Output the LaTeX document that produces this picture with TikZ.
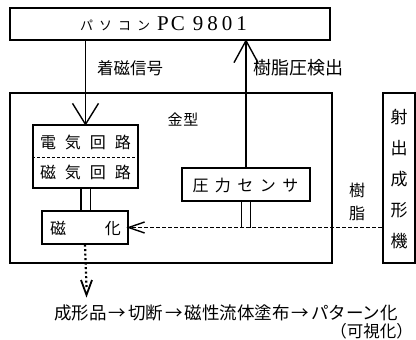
\documentclass[tikz,border=0pt]{standalone}
\usepackage{fontspec}
\setmainfont{Noto Sans CJK JP}
\newfontfamily\latinserif{Liberation Serif}
\usetikzlibrary{calc}
\begin{document}
\begin{tikzpicture}[x=1pt,y=-1pt,
  box/.style={draw,line width=1.3pt,rectangle,inner sep=0pt},
  conn/.style={line width=1.2pt},
  head/.style={line width=1.4pt,line join=miter},
  lbl/.style={inner sep=0pt,font=\fontsize{16}{16}\selectfont}
]
\useasboundingbox (0,0) rectangle (416,340);
% boxes
\node[box,minimum width=320pt,minimum height=32pt] (pc) at (170,24) {};
\node[box,line width=1.6pt,minimum width=322pt,minimum height=170pt] (mold) at (171,178) {};
\node[box,minimum width=105pt,minimum height=63pt] (circ) at (85.5,156.5) {};
\node[box,minimum width=86pt,minimum height=33pt] (mag) at (85,227.5) {};
\node[box,minimum width=128pt,minimum height=33pt] (sensor) at (246,184.5) {};
\node[box,line width=1.6pt,minimum width=32pt,minimum height=170pt] (inj) at (399,178) {};
% texts
\node[lbl,anchor=west] (pct) at (80,24) {{\fontsize{13}{13}\selectfont パ\hspace{6pt}ソ\hspace{6pt}コ\hspace{6pt}ン}\hspace{7pt}{\latinserif\fontsize{21}{21}\selectfont P\hspace{2pt}C\hspace{8pt}9\hspace{4pt}8\hspace{4pt}0\hspace{4pt}1}};
\node[lbl,anchor=west,font=\fontsize{16.5}{16.5}\selectfont] (sig) at (97,68) {着磁信号};
\node[lbl,anchor=west,font=\fontsize{18}{18}\selectfont] (det) at (253,68) {樹脂圧検出};
\node[lbl,font=\fontsize{15}{15}\selectfont] (kin) at (183,120) {金\hspace{1pt}型};
\node[lbl] (elec) at (85.5,142) {電\hspace{9pt}気\hspace{9pt}回\hspace{9pt}路};
\node[lbl] (magc) at (85.5,172) {磁\hspace{9pt}気\hspace{9pt}回\hspace{9pt}路};
\node[lbl] (magt) at (85.5,228) {磁\hspace{39pt}化};
\node[lbl] (sent) at (245.5,185) {圧\hspace{6.5pt}力\hspace{6.5pt}セ\hspace{6.5pt}ン\hspace{6.5pt}サ};
\node[lbl] (ju) at (357,190) {樹};
\node[lbl] (shi) at (357,213) {脂};
\node[lbl,font=\fontsize{17}{17}\selectfont] (i1) at (399,117) {射};
\node[lbl,font=\fontsize{17}{17}\selectfont] (i2) at (399,148) {出};
\node[lbl,font=\fontsize{17}{17}\selectfont] (i3) at (399,179) {成};
\node[lbl,font=\fontsize{17}{17}\selectfont] (i4) at (399,210) {形};
\node[lbl,font=\fontsize{17}{17}\selectfont] (i5) at (399,241) {機};
\node[lbl,anchor=west,font=\fontsize{17.5}{17.5}\selectfont] (flow) at (54,313) {成形品\hspace{2pt}→\hspace{2pt}切断\hspace{2pt}→\hspace{2pt}磁性流体塗布\hspace{2pt}→\hspace{2pt}パターン化};
\node[lbl,anchor=east,font=\fontsize{16.5}{16.5}\selectfont] (vis) at (413,331) {（可視化）};
% dashed separator in circuit box
\draw[line width=1pt,dash pattern=on 3pt off 2pt] (circ.west |- 0,157) -- (circ.east |- 0,157);
% connectors
\draw[conn] (pc.south -| circ.north) -- (circ.north);
\draw[head] ($(circ.north)+(-13,-21)$) -- (circ.north) -- ($(circ.north)+(13,-21)$);
\draw[conn] (sensor.north) -- (sensor.north |- pc.south);
\coordinate (uptip) at (sensor.north |- pc.south);
\draw[head] ($(uptip)+(-12,22)$) -- (uptip) -- ($(uptip)+(12,22)$);
\draw[line width=1.2pt,double,double distance=8pt] (circ.south) -- (circ.south |- mag.north);
\draw[line width=1.2pt,double,double distance=8pt] (sensor.south) -- (sensor.south |- mag.east);
\draw[line width=1.5pt,dash pattern=on 4pt off 2pt] (inj.west |- mag.east) -- (mag.east);
\draw[head] ($(mag.east)+(16,-5.5)$) -- (mag.east) -- ($(mag.east)+(16,5.5)$);
\coordinate (out) at (86.5,295);
\draw[line width=2.2pt,dash pattern=on 2pt off 2.5pt] (mag.south) -- ($(out)+(0,-8)$);
\draw[head,line width=1.8pt] ($(out)+(-5.5,-15)$) -- (out) -- ($(out)+(5.5,-15)$);
\end{tikzpicture}
\end{document}
